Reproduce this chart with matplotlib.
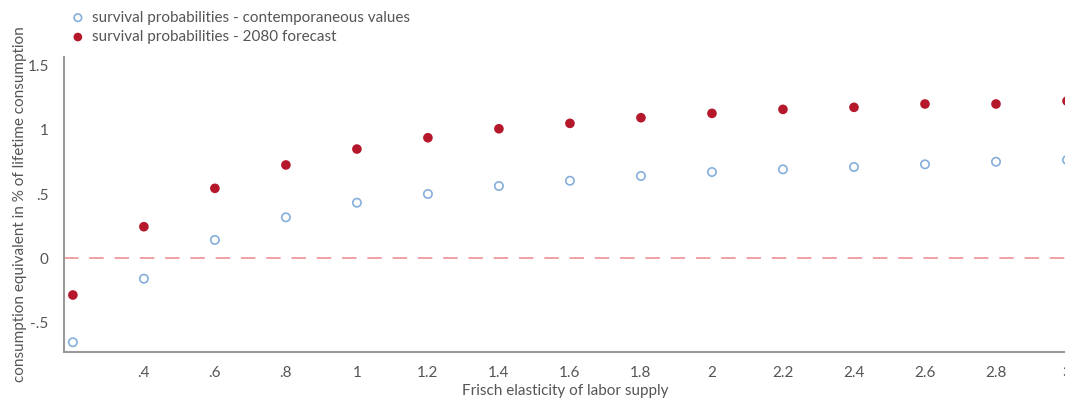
import matplotlib.pyplot as plt
from matplotlib.ticker import FixedLocator, FixedFormatter

plt.rcParams['font.family'] = ['Lato', 'DejaVu Sans']

# Frisch elasticity values
frisch = [0.2, 0.4, 0.6, 0.8, 1.0, 1.2, 1.4, 1.6, 1.8, 2.0, 2.2, 2.4, 2.6, 2.8, 3.0]

# consumption equivalents (% of lifetime consumption)
contemporaneous = [-0.654, -0.159, 0.143, 0.319, 0.433, 0.501, 0.563, 0.604,
                   0.641, 0.672, 0.693, 0.711, 0.732, 0.752, 0.766]
forecast_2080 = [-0.286, 0.246, 0.545, 0.727, 0.851, 0.939, 1.009, 1.051,
                 1.095, 1.129, 1.160, 1.176, 1.202, 1.202, 1.225]

x_ticks = [0.4, 0.6, 0.8, 1.0, 1.2, 1.4, 1.6, 1.8, 2.0, 2.2, 2.4, 2.6, 2.8, 3.0]
x_labels = ['.4', '.6', '.8', '1', '1.2', '1.4', '1.6', '1.8', '2', '2.2', '2.4', '2.6', '2.8', '3']
y_ticks = [-0.5, 0, 0.5, 1, 1.5]
y_labels = ['-.5', '0', '.5', '1', '1.5']

fig = plt.figure(figsize=(10.65, 4.0), dpi=100)
ax = fig.add_axes([64 / 1065, 1 - 352 / 400, (1067 - 64) / 1065, (352 - 57) / 400])

ax.axhline(0, color='#ee9a9e', lw=1.3, dashes=(8, 6), zorder=1)

ax.scatter(frisch, contemporaneous, s=36, facecolors='none', edgecolors='#86aedb',
           linewidths=1.2, label='survival probabilities - contemporaneous values', zorder=3,
           clip_on=False)
ax.scatter(frisch, forecast_2080, s=48, color='#b5172b', edgecolors='none',
           label='survival probabilities - 2080 forecast', zorder=3, clip_on=False)

ax.set_xlim(0.175, 3.0)
ax.set_ylim(-0.730, 1.568)

ax.xaxis.set_major_locator(FixedLocator(x_ticks))
ax.xaxis.set_major_formatter(FixedFormatter(x_labels))
ax.yaxis.set_major_locator(FixedLocator(y_ticks))
ax.yaxis.set_major_formatter(FixedFormatter(y_labels))
ax.tick_params(length=0, labelsize=11, colors='#555555', pad=10)
ax.tick_params(axis='y', pad=11)

for side in ['top', 'right']:
    ax.spines[side].set_visible(False)
for side in ['left', 'bottom']:
    ax.spines[side].set_color('#9a9a9a')
    ax.spines[side].set_linewidth(1.5)

ax.set_xlabel('Frisch elasticity of labor supply', fontsize=11, color='#555555', labelpad=3)
ax.set_ylabel('consumption equivalent in % of lifetime consumption', fontsize=11,
              color='#555555', labelpad=0)

ax.legend(loc='upper left', bbox_to_anchor=(58 / 1065, 1.0), bbox_transform=fig.transFigure,
          frameon=False, fontsize=11, labelcolor='#555555', handletextpad=0.3,
          labelspacing=0.35, borderaxespad=0.3, handlelength=1.2, markerscale=0.9)

fig.savefig('out.png', dpi=100)
